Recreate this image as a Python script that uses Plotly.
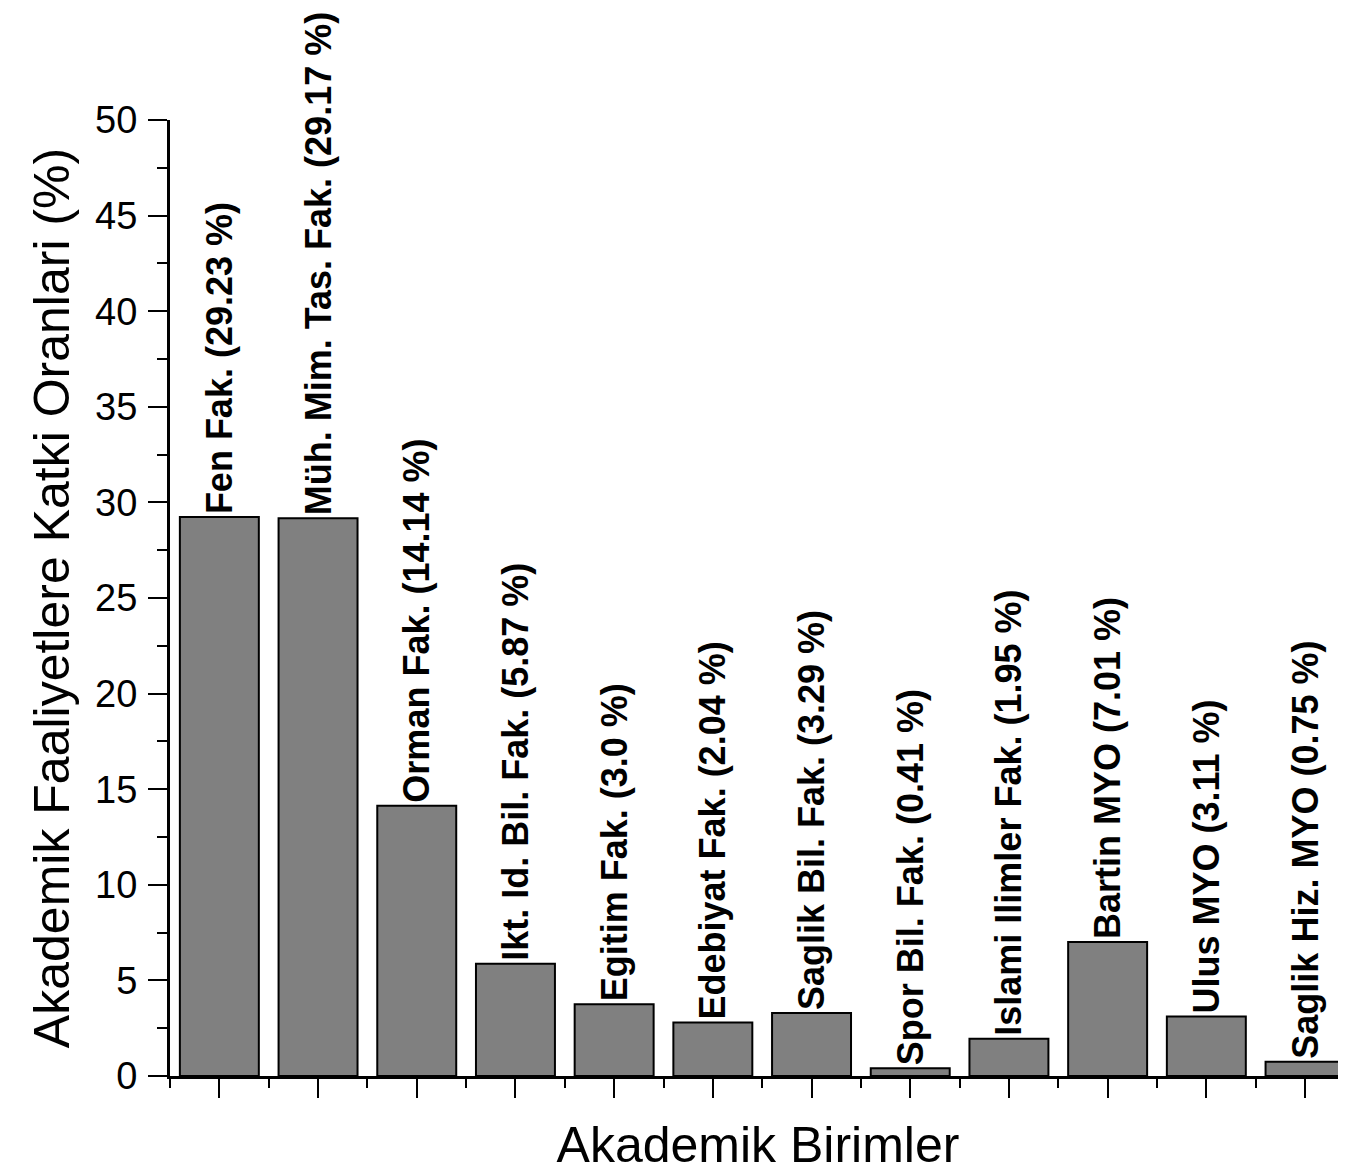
import plotly.graph_objects as go

# ---- data ----
units = ["Fen Fak.", "Müh. Mim. Tas. Fak.", "Orman Fak.", "Ikt. Id. Bil. Fak.",
         "Egitim Fak.", "Edebiyat Fak.", "Saglik Bil. Fak.", "Spor Bil. Fak.",
         "Islami Ilimler Fak.", "Bartin MYO", "Ulus MYO", "Saglik Hiz. MYO"]
label_pct = ["29.23", "29.17", "14.14", "5.87", "3.0", "2.04", "3.29", "0.41",
             "1.95", "7.01", "3.11", "0.75"]
bar_values = [29.23, 29.17, 14.14, 5.87, 3.75, 2.8, 3.29, 0.41, 1.95, 7.01, 3.11, 0.75]
y_ticks = [0, 5, 10, 15, 20, 25, 30, 35, 40, 45, 50]

FONT = "Arial, 'Liberation Sans', sans-serif"

xpos = list(range(len(units)))
texts = [f"{u} ({p} %)" for u, p in zip(units, label_pct)]

fig = go.Figure()
fig.add_trace(go.Bar(
    x=xpos, y=bar_values, width=0.8,
    marker=dict(color="#808080", line=dict(color="black", width=2)),
    text=texts, textposition="outside", textangle=-90,
    textfont=dict(family=FONT, size=36, color="black", weight="bold"),
    constraintext="none", cliponaxis=False,
    hovertext=units, hoverinfo="text+y",
))

# page body adds an 8px margin; figure is sized so the plot lands where the reference has it
fig.update_layout(
    width=1338, height=1165,
    margin=dict(l=162, r=0, t=112, b=97),
    paper_bgcolor="white", plot_bgcolor="white",
    showlegend=False,
    font=dict(family=FONT, color="black"),
    xaxis=dict(
        range=[-0.5, 11.415], showgrid=False, zeroline=False,
        showline=True, linecolor="black", linewidth=3,
        tickmode="array", tickvals=xpos, showticklabels=False,
        ticks="outside", ticklen=19, tickwidth=2, tickcolor="black",
        minor=dict(tickmode="array", tickvals=[i - 0.5 for i in xpos] + [len(units) - 0.5],
                   ticks="outside", ticklen=9, tickwidth=2, tickcolor="black", showgrid=False),
        title=dict(text="Akademik Birimler", font=dict(size=50, family=FONT), standoff=31),
    ),
    yaxis=dict(
        range=[0, 50], showgrid=False, zeroline=False,
        showline=True, linecolor="black", linewidth=3,
        tickmode="array", tickvals=y_ticks,
        ticks="outside", ticklen=19, tickwidth=2, tickcolor="black",
        tickfont=dict(size=38, family=FONT), ticklabelstandoff=3,
        minor=dict(dtick=2.5, tick0=0, ticks="outside", ticklen=10, tickwidth=2,
                   tickcolor="black", showgrid=False),
        title=dict(text="Akademik Faaliyetlere Katki Oranlari (%)",
                   font=dict(size=50, family=FONT), standoff=10),
    ),
)

fig.write_html("out.html")
